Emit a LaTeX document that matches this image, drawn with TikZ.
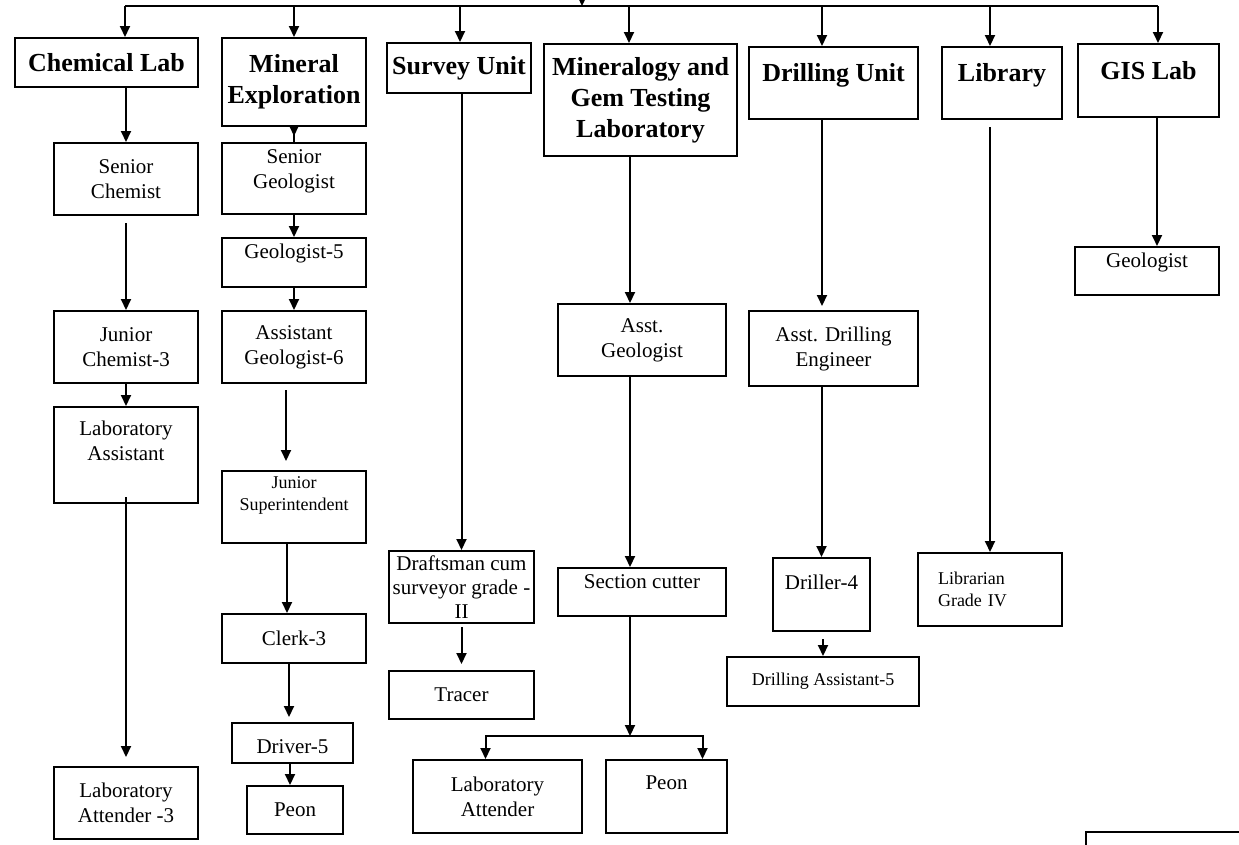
\documentclass[tikz,border=0pt]{standalone}
\usepackage{fontspec}
\setmainfont{Liberation Serif}
\usetikzlibrary{arrows.meta}
\newcommand{\lift}[2]{\raisebox{#1}[\height][\depth]{\begin{tabular}{@{}c@{}}#2\end{tabular}}}

\begin{document}
\begin{tikzpicture}[x=1pt, y=-1pt,
    box/.style={draw, line width=2pt, inner sep=0pt, align=center, font=\fontsize{21}{25}\selectfont},
    head/.style={box, font=\bfseries\fontsize{26}{31}\selectfont},
    small/.style={font=\fontsize{18}{22}\selectfont},
    link/.style={line width=2pt, -{Triangle[length=11pt,width=10pt]}}]
    \useasboundingbox (0,0) rectangle (1239,844);

    % sections
    \node[head, minimum width=183pt, minimum height=49pt] (chem) at (106.5,62.5) {Chemical Lab};
    \node[head, minimum width=144pt, minimum height=88pt] (minexp) at (294,82) {Mineral\\Exploration};
    \node[head, minimum width=144pt, minimum height=50pt] (survey) at (459,68) {Survey Unit};
    \node[head, minimum width=193pt, minimum height=112pt] (mingem) at (640.5,100) {Mineralogy and\\Gem Testing\\Laboratory};
    \node[head, minimum width=169pt, minimum height=72pt] (drill) at (833.5,83) {\lift{8pt}{Drilling Unit}};
    \node[head, minimum width=120pt, minimum height=72pt] (lib) at (1002,83) {\lift{8pt}{Library}};
    \node[head, minimum width=141pt, minimum height=73pt] (gis) at (1148.5,80.5) {\lift{7pt}{GIS Lab}};

    % chemical lab
    \node[box, minimum width=144pt, minimum height=72pt] (senchem) at (126,179) {Senior\\Chemist};
    \node[box, minimum width=144pt, minimum height=72pt] (junchem) at (126,347) {Junior\\Chemist-3};
    \node[box, minimum width=144pt, minimum height=96pt] (labasst) at (126,455) {\lift{12pt}{Laboratory\\Assistant}};
    \node[box, minimum width=144pt, minimum height=72pt] (labatt3) at (126,803) {Laboratory\\Attender -3};

    % mineral exploration
    \node[box, minimum width=144pt, minimum height=71pt] (sengeo) at (294,178.5) {\lift{8pt}{Senior\\Geologist}};
    \node[box, minimum width=144pt, minimum height=49pt] (geo5) at (294,262.5) {\lift{9pt}{Geologist-5}};
    \node[box, minimum width=144pt, minimum height=72pt] (asstgeo6) at (294,347) {Assistant\\Geologist-6};
    \node[box, small, minimum width=144pt, minimum height=72pt] (junsup) at (294,507) {\lift{12pt}{Junior\\Superintendent}};
    \node[box, minimum width=144pt, minimum height=49pt] (clerk) at (294,638.5) {Clerk-3};
    \node[box, minimum width=121pt, minimum height=40pt] (driver) at (292.5,743) {\lift{-5pt}{Driver-5}};
    \node[box, minimum width=96pt, minimum height=48pt] (peon1) at (295,810) {Peon};

    % survey unit
    \node[box, minimum width=145pt, minimum height=72pt, font=\fontsize{21}{24}\selectfont] (draft) at (461.5,587) {Draftsman cum\\surveyor grade -\\II};
    \node[box, minimum width=145pt, minimum height=48pt] (tracer) at (461.5,695) {Tracer};

    % mineralogy and gem testing
    \node[box, minimum width=168pt, minimum height=72pt] (asstgeo) at (642,340) {Asst.\\Geologist};
    \node[box, minimum width=168pt, minimum height=48pt] (section) at (642,592) {\lift{9pt}{Section cutter}};
    \node[box, minimum width=169pt, minimum height=73pt] (labatt) at (497.5,796.5) {Laboratory\\Attender};
    \node[box, minimum width=121pt, minimum height=73pt] (peon2) at (666.5,796.5) {\lift{12pt}{Peon}};
    \coordinate (split) at (630,736);

    % drilling unit
    \node[box, minimum width=169pt, minimum height=75pt] (asstdrill) at (833.5,348.5) {Asst. Drilling\\Engineer};
    \node[box, minimum width=97pt, minimum height=73pt] (driller) at (821.5,594.5) {\lift{10pt}{Driller-4}};
    \node[box, small, minimum width=192pt, minimum height=49pt] (drillasst) at (823,681.5) {Drilling Assistant-5};

    % library and gis lab
    \node[box, small, minimum width=144pt, minimum height=73pt, text width=104pt, align=left] (librarian) at (990,589.5) {Librarian\\Grade IV};
    \node[box, minimum width=144pt, minimum height=48pt] (gisgeo) at (1147,271) {\lift{9pt}{Geologist}};

    \draw[line width=2pt] (1086,832) rectangle (1300,900);

    % top line
    \foreach \x/\n in {125/chem, 294/minexp, 460/survey, 629/mingem, 822/drill, 990/lib, 1158/gis}{
        \coordinate (t\n) at (\x,6);
        \draw[link] (t\n) -- (t\n |- \n.north);
    }
    \draw[line width=2pt] (tchem) -- (tgis);
    \coordinate (top) at (582,-8);
    \draw[link] (top) -- (top |- tchem);

    \draw[link] (senchem.north |- chem.south) -- (senchem.north);
    \draw[link, shorten <=7pt] (senchem) -- (junchem);
    \draw[link] (junchem) -- (labasst);
    \draw[link, shorten <=-7pt, shorten >=9pt] (labasst) -- (labatt3);

    \draw[link, shorten <=-16pt, shorten >=6pt] (minexp) -- (sengeo);
    \draw[link] (sengeo) -- (geo5);
    \draw[link] (geo5) -- (asstgeo6);
    \draw[link, shorten <=6pt, shorten >=9pt] ([xshift=-8pt]asstgeo6.south) -- ([xshift=-8pt]junsup.north);
    \draw[link] ([xshift=-7pt]junsup.south) -- ([xshift=-7pt]clerk.north);
    \draw[link, shorten >=5pt] ([xshift=-5pt]clerk.south) -- ([xshift=-5pt]clerk.south |- driver.north);
    \draw[link] ([xshift=-5pt]peon1.north |- driver.south) -- ([xshift=-5pt]peon1.north);

    \draw[link] (draft.north |- survey.south) -- (draft.north);
    \draw[link, shorten <=3pt, shorten >=6pt] (draft) -- (tracer);

    \draw[link] ([xshift=-12pt]asstgeo.north |- mingem.south) -- ([xshift=-12pt]asstgeo.north);
    \draw[link] ([xshift=-12pt]asstgeo.south) -- ([xshift=-12pt]section.north);
    \draw[link] ([xshift=-12pt]section.south) -- (split);
    \draw[link] (split) -| ([xshift=-12pt]labatt.north);
    \draw[link] (split) -| ([xshift=36pt]peon2.north);

    \draw[link, shorten >=4pt] ([xshift=-11.5pt]drill.south) -- ([xshift=-11.5pt]drill.south |- asstdrill.north);
    \draw[link] (driller.north |- asstdrill.south) -- (driller.north);
    \draw[link, shorten <=7pt] (driller.south -| drillasst.north) -- (drillasst.north);

    \draw[link, shorten <=7pt] (librarian.north |- lib.south) -- (librarian.north);
    \draw[link] ([xshift=10pt]gisgeo.north |- gis.south) -- ([xshift=10pt]gisgeo.north);
\end{tikzpicture}
\end{document}
